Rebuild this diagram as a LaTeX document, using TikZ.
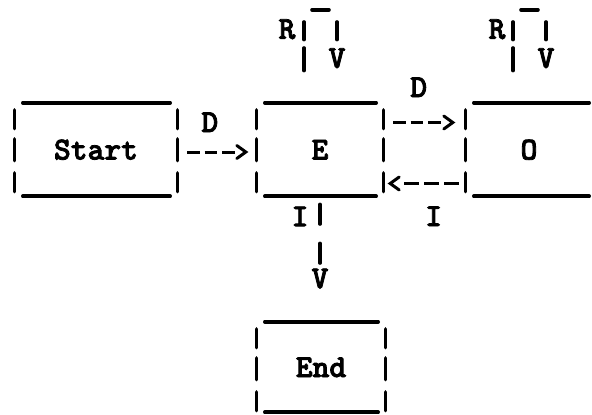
\documentclass[tikz,border=0pt]{standalone}
\usepackage{fontspec}
\usetikzlibrary{calc}
\newfontfamily\tw{lmmonolt10-bold.otf}[FakeBold=2.5]
\newcommand\myhlines[1]{%
  \draw[uline] ($(#1.north west)+(8,0)$) -- ($(#1.north east)+(-7,0)$);
  \draw[uline] ($(#1.south west)+(8,0)$) -- ($(#1.south east)+(-7,0)$);}
\newcommand\myvbars[2]{%
  \foreach \a/\b in {7/26,36/58,70/89}
    \draw[bar] ($(#1.north #2)+(0,\a)$) -- ($(#1.north #2)+(0,\b)$);}
\begin{document}
\begin{tikzpicture}[x=1pt,y=-1pt,
  uline/.style={line width=3.6pt,line cap=round},
  bar/.style={line width=3.2pt,line cap=round},
  dshf/.style={line width=3pt,dash pattern=on 12.5pt off 5pt},
  dshr/.style={line width=3pt,dash pattern=on 15pt off 5pt},
  chev/.style={line width=3pt,line join=miter,line cap=round},
  lbl/.style={font=\tw\fontsize{32}{32}\selectfont,inner sep=0pt,anchor=base},
  abox/.style={font=\tw\fontsize{32}{32}\selectfont,inner sep=0pt,
    text height=20pt,text depth=0pt,draw=none}]
\useasboundingbox (0,0) rectangle (592,415);
% boxes
\node[abox,minimum width=162pt,minimum height=93pt] (start) at (96,149.5) {Start};
\node[abox,minimum width=126pt,minimum height=93pt] (e) at (320,149.5) {E};
\node[abox,minimum width=126pt,minimum height=93pt] (o) at (529,149.5) {O};
\node[abox,minimum width=128pt,minimum height=90pt] (end) at (321,367) {End};
\myhlines{start}\myvbars{start}{west}\myvbars{start}{east}
\myhlines{e}\myvbars{e}{west}\myvbars{e}{east}
\myhlines{end}\myvbars{end}{west}\myvbars{end}{east}
\draw[uline] ($(o.north west)+(8,0)$) -- ($(o.north east)+(-3,0)$);
\draw[uline] ($(o.south west)+(8,0)$) -- ($(o.south east)+(-3,0)$);
\myvbars{o}{west}
% Start -> E
\coordinate (se1) at ($(start.east)+(10,2.5)$);
\coordinate (se2) at ($(e.west)+(-11,2.5)$);
\draw[dshf] (se1) -- ($(se2)+(-11,0)$);
\draw[chev] ($(se2)+(-9,-6.5)$) -- (se2) -- ($(se2)+(-9,6.5)$);
\node[lbl] (dse) at ($(start.east)!0.41!(e.west)+(0,-17.5)$) {D};
% E -> O
\coordinate (eo1) at ($(e.east)+(10,-27)$);
\coordinate (eo2) at ($(o.west)+(-13,-27)$);
\draw[dshf] (eo1) -- ($(eo2)+(-10,0)$);
\draw[chev] ($(eo2)+(-9,-6.5)$) -- (eo2) -- ($(eo2)+(-9,6.5)$);
\node[lbl] (deo) at ($(e.east)!0.43!(o.west)+(0,-52.5)$) {D};
% O -> E
\coordinate (oe1) at ($(o.west)+(-7,34)$);
\coordinate (oe2) at ($(e.east)+(7,34)$);
\draw[dshr] (oe1) -- ($(oe2)+(10,0)$);
\draw[chev] ($(oe2)+(9,-6.5)$) -- (oe2) -- ($(oe2)+(9,6.5)$);
\node[lbl] (ioe) at ($(e.east)!0.61!(o.west)+(0,76.5)$) {I};
% E self loop
\coordinate (el) at ($(e.north)+(-16,0)$);
\coordinate (er) at ($(e.north)+(17,0)$);
\draw[bar] ($(el)+(0,-55)$) -- ($(el)+(0,-32)$);
\draw[bar] ($(el)+(0,-81)$) -- ($(el)+(0,-63)$);
\draw[bar] ($(er)+(0,-81)$) -- ($(er)+(0,-63)$);
\draw[uline] ($(el)+(8,-93)$) -- ($(er)+(-8,-93)$);
\node[lbl] (re) at ($(el)+(-17,-64)$) {R};
\node[lbl] (ve) at ($(er)+(0,-35)$) {V};
% O self loop
\coordinate (ol) at ($(o.north)+(-16,0)$);
\coordinate (or) at ($(o.north)+(17,0)$);
\draw[bar] ($(ol)+(0,-55)$) -- ($(ol)+(0,-32)$);
\draw[bar] ($(ol)+(0,-81)$) -- ($(ol)+(0,-63)$);
\draw[bar] ($(or)+(0,-81)$) -- ($(or)+(0,-63)$);
\draw[uline] ($(ol)+(8,-93)$) -- ($(or)+(-8,-93)$);
\node[lbl] (ro) at ($(ol)+(-16,-64)$) {R};
\node[lbl] (vo) at ($(or)+(0,-35)$) {V};
% E -> End
\draw[bar] ($(e.south)+(0,8)$) -- ($(e.south)+(0,28)$);
\draw[bar] ($(e.south)+(0,47)$) -- ($(e.south)+(0,67)$);
\node[lbl] (ie) at ($(e.south)+(-20,30)$) {I};
\node[lbl] (vend) at ($(e.south)+(0,92)$) {V};
\end{tikzpicture}
\end{document}
